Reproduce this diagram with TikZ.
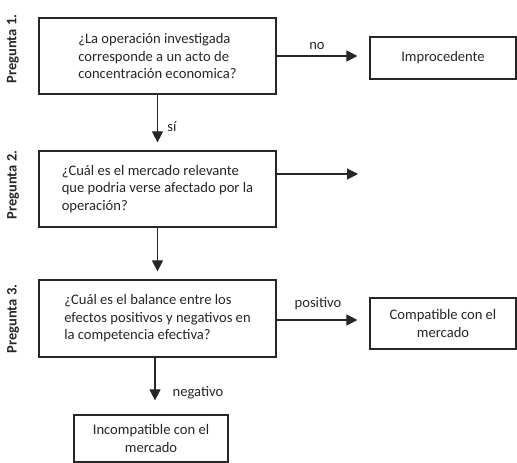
\documentclass[tikz,border=0pt]{standalone}
\usepackage{fontspec}
\setmainfont{Carlito}
\usetikzlibrary{arrows.meta}
\begin{document}
\begin{tikzpicture}[x=1pt,y=-1pt,
  box/.style={draw=black!85,line width=1.2pt,inner sep=0pt,align=left,font=\fontsize{14.6}{17.5}\selectfont,text=black!85},
  cbox/.style={box,align=center},
  conn/.style={draw=black!85,line width=1.1pt,-{Triangle[length=11pt,width=11pt]}},
  lbl/.style={font=\fontsize{14.6}{17}\selectfont,text=black!85,inner sep=0pt},
  side/.style={font=\bfseries\fontsize{14.5}{16}\selectfont,rotate=90,text=black!85}]
\useasboundingbox (0,0) rectangle (517,463);
\node[box,minimum width=237pt,minimum height=76pt] (b1) at (157.5,56) {¿La operación investigada\\corresponde a un acto de\\concentración economica?};
\node[cbox,minimum width=146pt,minimum height=42pt] (imp) at (443,58) {Improcedente};
\node[box,minimum width=237pt,minimum height=76pt] (b2) at (157.5,189) {¿Cuál es el mercado relevante\\que podria verse afectado por la\\operación?};
\node[box,minimum width=237pt,minimum height=77pt] (b3) at (157.5,318.5) {¿Cuál es el balance entre los\\efectos positivos y negativos en\\la competencia efectiva?};
\node[cbox,minimum width=146pt,minimum height=51pt] (comp) at (443,323.5) {Compatible con el\\mercado};
\node[cbox,minimum width=154pt,minimum height=47pt] (inc) at (151,438.5) {Incompatible con el\\mercado};
\node[side] (p1) at (13,49) {Pregunta 1.};
\node[side] (p2) at (13,185) {Pregunta 2.};
\node[side] (p3) at (13,319) {Pregunta 3.};
\coordinate (e2) at (358,174);
\draw[conn,shorten >=12pt] (b1.east) -- (b1.east -| imp.west);
\draw[conn,shorten >=8pt] (b1.south) -- (b2.north);
\draw[conn] (b2.east |- e2) -- (e2);
\draw[conn,shorten >=8pt] (b2.south) -- (b3.north);
\draw[conn,shorten >=12pt] (b3.east |- 0,320) -- (comp.west |- 0,320);
\draw[conn,shorten >=14pt] (b3.south -| 155,0) -- (inc.north -| 155,0);
\node[lbl] (lno) at (317,46) {no};
\node[lbl] (lsi) at (172,127) {sí};
\node[lbl] (lpos) at (318,304) {positivo};
\node[lbl] (lneg) at (198,393) {negativo};
\end{tikzpicture}
\end{document}
